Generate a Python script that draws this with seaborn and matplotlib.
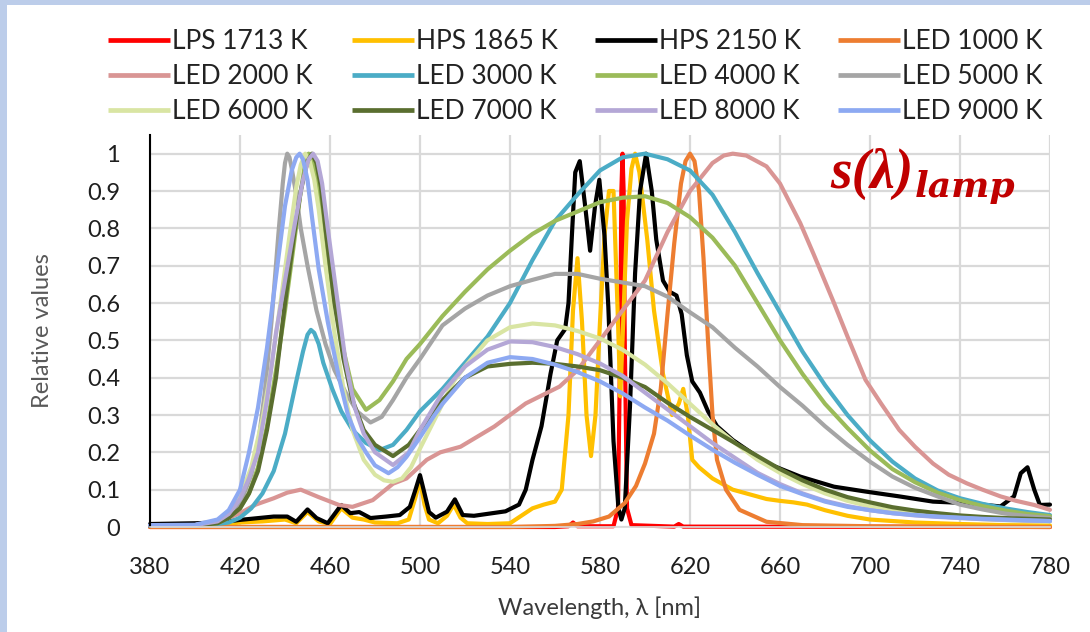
import matplotlib
matplotlib.use("Agg")
import matplotlib.pyplot as plt
from matplotlib.lines import Line2D
from matplotlib.patches import Rectangle
import pandas as pd
import seaborn as sns

# ---------------- spectra (relative values) ----------------
lamp_names = ["LPS 1713 K", "HPS 1865 K", "HPS 2150 K", "LED 1000 K",
              "LED 2000 K", "LED 3000 K", "LED 4000 K", "LED 5000 K",
              "LED 6000 K", "LED 7000 K", "LED 8000 K", "LED 9000 K"]
lamp_colors = ["#FF0000", "#FFC000", "#000000", "#ED7D31",
               "#D99594", "#4BACC6", "#9BBB59", "#A5A5A5",
               "#D9E5A3", "#5A6E2F", "#B4A7D6", "#8DA9F2"]

lps_wl = [380, 560, 566, 568, 570, 586, 588, 589, 589.5, 590, 590.5, 591, 592, 594, 613, 615, 617, 780]
lps_val = [0, 0, 0.002, 0.012, 0.002, 0.002, 0.05, 0.5, 0.9, 1.0, 0.9, 0.5, 0.05, 0.005, 0.001, 0.008, 0.001, 0]

hps1865_wl = [380, 410, 420, 430, 440, 445, 450, 455, 460, 465, 470, 475, 480, 490, 495, 498, 500, 502,
              504, 508, 512, 515, 518, 521, 530, 540, 545, 550, 555, 560, 563, 566, 568, 570, 572, 574,
              576, 578, 580, 582, 584, 586, 588, 589, 590, 592, 594, 595.6, 597.5, 601, 604, 608, 612,
              615, 617, 619, 621, 624, 630, 639, 654, 660, 666, 672, 680, 690, 700, 720, 740, 760, 780]
hps1865_val = [0.003, 0.005, 0.012, 0.015, 0.02, 0.01, 0.04, 0.015, 0.008, 0.05, 0.025, 0.02, 0.012, 0.01,
               0.02, 0.08, 0.126, 0.06, 0.02, 0.01, 0.03, 0.06, 0.025, 0.01, 0.008, 0.01, 0.03, 0.05,
               0.06, 0.068, 0.1, 0.3, 0.58, 0.72, 0.55, 0.3, 0.19, 0.3, 0.55, 0.78, 0.9, 0.9, 0.55,
               0.35, 0.5, 0.82, 0.96, 1.0, 0.95, 0.77, 0.58, 0.41, 0.3, 0.33, 0.37, 0.3, 0.18, 0.16,
               0.13, 0.1, 0.075, 0.07, 0.066, 0.06, 0.045, 0.03, 0.02, 0.012, 0.008, 0.005, 0.004]

hps2150_wl = [380, 400, 410, 420, 430, 435, 441, 445, 450, 454, 459, 465, 469, 473, 478, 485, 491, 495.5,
              498, 500, 502, 504, 507, 512, 515.5, 519, 524, 538, 544, 547, 550, 554, 558, 561, 564.5,
              566, 567.5, 569, 571, 573.4, 575.6, 577.8, 579.7, 582, 583.7, 586, 588.2, 589.5, 591,
              593.3, 595.6, 597.8, 600.5, 603, 605, 608, 611, 614, 616.3, 618.6, 621, 624.4, 628, 632,
              639, 654, 669, 684, 698, 713, 728, 743, 758, 764, 767, 770, 773, 775.5, 780]
hps2150_val = [0.008, 0.01, 0.012, 0.019, 0.025, 0.028, 0.028, 0.014, 0.047, 0.024, 0.01, 0.059, 0.037, 0.04,
               0.024, 0.028, 0.032, 0.054, 0.1, 0.139, 0.09, 0.04, 0.025, 0.041, 0.074, 0.032, 0.03,
               0.042, 0.06, 0.1, 0.18, 0.27, 0.41, 0.5, 0.53, 0.6, 0.78, 0.95, 0.98, 0.86, 0.74, 0.86,
               0.93, 0.78, 0.59, 0.23, 0.05, 0.02, 0.05, 0.32, 0.68, 0.9, 1.0, 0.9, 0.77, 0.66, 0.63,
               0.62, 0.57, 0.46, 0.39, 0.36, 0.31, 0.27, 0.233, 0.171, 0.135, 0.108, 0.095, 0.082,
               0.068, 0.064, 0.055, 0.082, 0.144, 0.16, 0.1, 0.059, 0.06]

led1000_wl = [380, 540, 560, 570, 577, 584, 591, 596, 600, 604, 607, 610, 613, 616, 618, 620, 622, 624,
              626, 628, 630, 632, 636, 642, 654, 670, 700, 780]
led1000_val = [0, 0, 0.003, 0.008, 0.015, 0.028, 0.064, 0.11, 0.17, 0.25, 0.37, 0.57, 0.76, 0.92, 0.98, 1.0,
               0.98, 0.9, 0.72, 0.5, 0.3, 0.18, 0.1, 0.046, 0.014, 0.005, 0.002, 0]

led2000_wl = [380, 400, 410, 420, 427, 435, 441, 447, 455, 464, 470, 479, 488, 494, 503, 509, 518, 533,
              547, 562, 570, 580, 590, 600, 610, 620, 630, 635, 639, 645, 654, 660, 669, 675, 684, 690,
              698, 705, 713, 720, 728, 735, 743, 750, 758, 765, 773, 780]
led2000_val = [0.004, 0.005, 0.012, 0.037, 0.06, 0.077, 0.092, 0.1, 0.08, 0.059, 0.054, 0.072, 0.116, 0.13,
               0.18, 0.2, 0.215, 0.269, 0.331, 0.376, 0.42, 0.5, 0.58, 0.66, 0.79, 0.9, 0.975, 0.995,
               1.0, 0.995, 0.966, 0.92, 0.814, 0.73, 0.6, 0.51, 0.394, 0.33, 0.26, 0.215, 0.17, 0.14,
               0.117, 0.1, 0.082, 0.07, 0.059, 0.046]

led3000_wl = [380, 400, 410, 415, 420, 425, 430, 435, 440, 445, 448, 450, 451.5, 453, 455, 457, 461, 465,
              470, 476, 482, 488, 494, 500, 510, 520, 530, 540, 550, 560, 570, 580, 590, 600, 610, 620,
              630, 640, 650, 660, 670, 680, 690, 700, 710, 720, 730, 740, 750, 760, 770, 780]
led3000_val = [0.003, 0.004, 0.008, 0.012, 0.025, 0.05, 0.09, 0.15, 0.25, 0.39, 0.47, 0.515, 0.528, 0.52,
               0.49, 0.44, 0.37, 0.31, 0.26, 0.225, 0.206, 0.22, 0.26, 0.31, 0.37, 0.44, 0.51, 0.6,
               0.715, 0.82, 0.89, 0.955, 0.99, 1.0, 0.985, 0.955, 0.89, 0.79, 0.68, 0.575, 0.47, 0.38,
               0.3, 0.232, 0.175, 0.13, 0.098, 0.077, 0.062, 0.05, 0.04, 0.032]

led4000_wl = [380, 400, 410, 415, 420, 424, 428, 432, 436, 440, 444, 447, 449, 450.5, 452, 454, 457, 461,
              465, 470, 476, 482, 488, 494, 500, 510, 520, 530, 540, 550, 560, 570, 580, 590, 600, 610,
              620, 630, 640, 650, 660, 670, 680, 690, 700, 710, 720, 730, 740, 750, 760, 770, 780]
led4000_val = [0.003, 0.004, 0.01, 0.025, 0.05, 0.09, 0.16, 0.27, 0.42, 0.58, 0.76, 0.9, 0.975, 1.0, 0.985,
               0.93, 0.8, 0.64, 0.5, 0.37, 0.314, 0.34, 0.39, 0.45, 0.49, 0.565, 0.63, 0.69, 0.74,
               0.785, 0.82, 0.845, 0.87, 0.882, 0.886, 0.868, 0.83, 0.775, 0.7, 0.6, 0.5, 0.41, 0.33,
               0.265, 0.205, 0.155, 0.12, 0.092, 0.072, 0.056, 0.044, 0.035, 0.029]

led5000_wl = [380, 400, 410, 415, 420, 425, 428, 431, 434, 437, 439, 440, 441, 442, 443, 445, 447, 450,
              454, 458, 462, 467, 472, 478, 483, 488, 494, 500, 510, 520, 530, 540, 550, 560, 570, 580,
              590, 600, 610, 620, 630, 640, 650, 660, 670, 680, 690, 700, 710, 720, 730, 740, 750, 760,
              770, 780]
led5000_val = [0.003, 0.005, 0.012, 0.03, 0.06, 0.14, 0.22, 0.36, 0.55, 0.78, 0.92, 0.975, 1.0, 0.99, 0.96,
               0.89, 0.8, 0.7, 0.58, 0.49, 0.42, 0.36, 0.31, 0.28, 0.295, 0.34, 0.4, 0.45, 0.54, 0.585,
               0.62, 0.645, 0.662, 0.678, 0.678, 0.665, 0.655, 0.645, 0.617, 0.575, 0.535, 0.48, 0.43,
               0.375, 0.325, 0.27, 0.22, 0.175, 0.135, 0.105, 0.082, 0.06, 0.047, 0.036, 0.029, 0.024]

led6000_wl = [380, 400, 410, 415, 420, 425, 430, 434, 438, 442, 445, 447, 449, 451, 453, 455, 458, 462,
              466, 470, 475, 480, 484, 488, 492, 496, 500, 505, 510, 515, 520, 530, 540, 550, 560, 570,
              580, 590, 600, 610, 620, 630, 640, 650, 660, 670, 680, 690, 700, 710, 720, 730, 740, 750,
              760, 770, 780]
led6000_val = [0.004, 0.005, 0.015, 0.035, 0.08, 0.16, 0.29, 0.43, 0.6, 0.78, 0.91, 0.97, 1.0, 0.98, 0.93,
               0.85, 0.7, 0.52, 0.37, 0.26, 0.18, 0.14, 0.125, 0.121, 0.13, 0.16, 0.21, 0.27, 0.33,
               0.39, 0.43, 0.5, 0.535, 0.545, 0.54, 0.525, 0.505, 0.475, 0.435, 0.385, 0.33, 0.275,
               0.225, 0.18, 0.145, 0.115, 0.09, 0.07, 0.055, 0.043, 0.035, 0.029, 0.024, 0.021, 0.018,
               0.016, 0.015]

led7000_wl = [380, 400, 410, 415, 420, 424, 428, 432, 436, 440, 444, 447, 450, 452, 454, 456, 458, 462,
              466, 470, 475, 480, 488, 495, 500, 510, 520, 530, 540, 550, 560, 570, 580, 590, 600, 610,
              620, 630, 640, 650, 660, 670, 680, 690, 700, 710, 720, 730, 740, 750, 760, 770, 780]
led7000_val = [0.003, 0.004, 0.01, 0.025, 0.05, 0.09, 0.15, 0.26, 0.4, 0.6, 0.78, 0.9, 0.98, 1.0, 0.975,
               0.91, 0.8, 0.6, 0.45, 0.34, 0.26, 0.22, 0.19, 0.22, 0.26, 0.34, 0.4, 0.43, 0.437, 0.44,
               0.437, 0.43, 0.42, 0.4, 0.375, 0.333, 0.295, 0.26, 0.225, 0.19, 0.155, 0.125, 0.1, 0.08,
               0.066, 0.053, 0.044, 0.037, 0.031, 0.027, 0.024, 0.022, 0.02]

led8000_wl = [380, 400, 410, 415, 420, 424, 428, 432, 436, 440, 444, 448, 450.5, 452.5, 454.5, 456.5,
              459, 463, 467, 471, 475, 480, 488, 495, 500, 510, 520, 530, 540, 550, 560, 570, 580, 590,
              600, 610, 620, 630, 640, 650, 660, 670, 680, 690, 700, 710, 720, 730, 740, 750, 760, 770,
              780]
led8000_val = [0.004, 0.005, 0.015, 0.035, 0.075, 0.13, 0.2, 0.34, 0.52, 0.66, 0.8, 0.93, 0.985, 1.0,
               0.98, 0.92, 0.8, 0.62, 0.44, 0.32, 0.25, 0.2, 0.166, 0.2, 0.26, 0.36, 0.43, 0.475, 0.497,
               0.495, 0.482, 0.463, 0.438, 0.405, 0.36, 0.315, 0.27, 0.225, 0.185, 0.145, 0.115, 0.09,
               0.07, 0.056, 0.045, 0.037, 0.031, 0.027, 0.024, 0.021, 0.019, 0.017, 0.016]

led9000_wl = [380, 400, 410, 415, 420, 424, 428, 432, 436, 440, 443, 445, 446.5, 448, 450, 452, 455, 459,
              464, 468, 472, 476, 480, 486, 490, 494, 500, 506, 510, 520, 530, 540, 550, 560, 570, 580,
              590, 600, 610, 620, 630, 640, 650, 660, 670, 680, 690, 700, 710, 720, 730, 740, 750, 760,
              770, 780]
led9000_val = [0.005, 0.006, 0.02, 0.045, 0.1, 0.2, 0.32, 0.48, 0.67, 0.86, 0.955, 0.99, 1.0, 0.985, 0.93,
               0.83, 0.69, 0.55, 0.4, 0.3, 0.24, 0.2, 0.165, 0.144, 0.16, 0.188, 0.24, 0.296, 0.33,
               0.4, 0.44, 0.455, 0.45, 0.435, 0.415, 0.39, 0.358, 0.32, 0.285, 0.245, 0.207, 0.172,
               0.14, 0.11, 0.088, 0.068, 0.054, 0.045, 0.037, 0.032, 0.028, 0.025, 0.022, 0.02, 0.018,
               0.016]

series_wl = [lps_wl, hps1865_wl, hps2150_wl, led1000_wl, led2000_wl, led3000_wl,
             led4000_wl, led5000_wl, led6000_wl, led7000_wl, led8000_wl, led9000_wl]
series_val = [lps_val, hps1865_val, hps2150_val, led1000_val, led2000_val, led3000_val,
              led4000_val, led5000_val, led6000_val, led7000_val, led8000_val, led9000_val]

x_ticks = [380, 420, 460, 500, 540, 580, 620, 660, 700, 740, 780]
y_ticks = [0, 0.1, 0.2, 0.3, 0.4, 0.5, 0.6, 0.7, 0.8, 0.9, 1.0]
y_tick_labels = ["0", "0.1", "0.2", "0.3", "0.4", "0.5", "0.6", "0.7", "0.8", "0.9", "1"]

# ---------------- long-form table ----------------
frames = []
for name, wl, val in zip(lamp_names, series_wl, series_val):
    frames.append(pd.DataFrame({"Wavelength": wl, "Value": val, "Lamp": name}))
df = pd.concat(frames, ignore_index=True)

# ---------------- figure ----------------
sns.set_theme(style="white")
plt.rcParams["font.family"] = ["Lato", "DejaVu Sans"]

W, H = 1090, 632
fig = plt.figure(figsize=(W / 100, H / 100), dpi=100)
fig.patch.set_facecolor("#BCCDEA")
fig.add_artist(Rectangle((7 / W, 0), 1 - 7 / W, 1 - 5 / H, transform=fig.transFigure,
                         facecolor="white", edgecolor="none", zorder=-10))

ax = fig.add_axes([150 / W, 105 / H, 900 / W, 392 / H])
ax.set_facecolor("white")

palette = dict(zip(lamp_names, lamp_colors))
sns.lineplot(data=df, x="Wavelength", y="Value", hue="Lamp", hue_order=lamp_names,
             palette=palette, estimator=None, sort=False, linewidth=3.0, ax=ax, legend=False)
for ln in ax.lines:
    ln.set_clip_on(False)
    ln.set_solid_joinstyle("round")
    ln.set_solid_capstyle("round")

ax.set_xlim(380, 780)
ax.set_ylim(0, 1.05)
ax.set_xticks(x_ticks)
ax.set_xticklabels([str(t) for t in x_ticks])
ax.set_yticks(y_ticks)
ax.set_yticklabels(y_tick_labels)
ax.grid(True, color="#D9D9D9", linewidth=1.6)
ax.set_axisbelow(True)
for side in ("top", "right"):
    ax.spines[side].set_visible(False)
ax.spines["left"].set_color("#000000")
ax.spines["left"].set_linewidth(1.5)
ax.spines["bottom"].set_color("#D9D9D9")
ax.tick_params(length=0, pad=21.5, labelsize=17, labelcolor="#1E1E1E")

ax.set_ylabel("Relative values", fontsize=17, color="#595959")
ax.yaxis.set_label_coords(-0.108, 0.5)
ax.set_xlabel("Wavelength, λ [nm]", fontsize=17, color="#3A3A3A")
ax.xaxis.set_label_coords(0.5, -0.178)

# ---------------- legend: four columns, read row-wise ----------------
col_x = [108, 352, 595, 838]
for c in range(4):
    idx = [c, c + 4, c + 8]
    handles = [Line2D([], [], color=lamp_colors[i], linewidth=3.4, solid_capstyle="butt") for i in idx]
    labels = [lamp_names[i] for i in idx]
    fig.legend(handles, labels, loc="upper left", bbox_to_anchor=(col_x[c] / W, 1 - 29 / H),
               frameon=False, borderpad=0, borderaxespad=0, handlelength=2.35,
               handletextpad=0.08, labelspacing=0.375, fontsize=19, labelcolor="#222222")

# ---------------- spectrum symbol ----------------
t1 = fig.text(830 / W, 1 - 188 / H, "s(λ)", fontsize=40, color="#C00000",
              family="Liberation Serif", weight="bold", style="italic", va="baseline", ha="left")
ax.annotate("lamp", xy=(1.0, 1 - 197 / H), xycoords=(t1, "figure fraction"),
            xytext=(1, 0), textcoords="offset points", fontsize=26, color="#C00000",
            family="DejaVu Serif", weight="bold", style="italic", va="baseline", ha="left",
            annotation_clip=False)

fig.savefig("out.png", dpi=100, facecolor=fig.get_facecolor())
